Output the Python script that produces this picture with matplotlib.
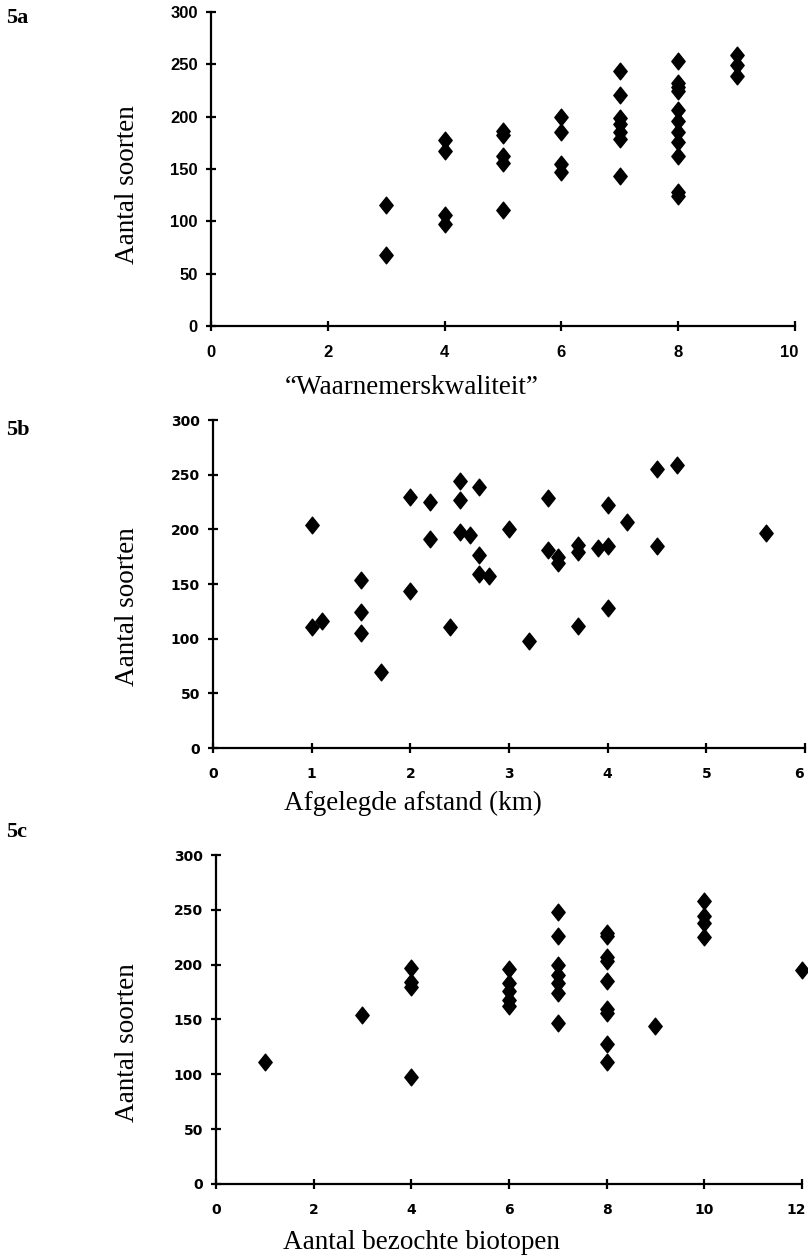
import matplotlib
matplotlib.use("Agg")
import matplotlib.pyplot as plt
import matplotlib.transforms as mtransforms
from matplotlib.path import Path

# 5a: waarnemerskwaliteit vs aantal soorten
kwal_x = [3, 3,
          4, 4, 4, 4,
          5, 5, 5, 5, 5,
          6, 6, 6, 6,
          7, 7, 7, 7, 7, 7, 7,
          8, 8, 8, 8, 8, 8, 8, 8, 8, 8, 8,
          9, 9, 9]
kwal_y = [116, 68,
          178, 167, 106, 97,
          186, 182, 162, 156, 111,
          200, 185, 155, 147,
          244, 221, 199, 193, 185, 179, 143,
          253, 232, 228, 224, 206, 196, 185, 176, 162, 128, 124,
          259, 249, 239]

# 5b: afgelegde afstand (km) vs aantal soorten
afst_x = [1.0, 1.0, 1.1, 1.5, 1.5, 1.5, 1.7, 2.0, 2.0, 2.2, 2.2, 2.4,
          2.5, 2.5, 2.5, 2.6, 2.7, 2.7, 2.7, 2.8, 3.0, 3.2, 3.4, 3.4,
          3.5, 3.5, 3.7, 3.7, 3.7, 3.9, 4.0, 4.0, 4.0, 4.2, 4.5, 4.5,
          4.7, 5.6]
afst_y = [204, 111, 116, 154, 124, 105, 70, 230, 144, 225, 191, 111,
          244, 227, 198, 195, 239, 177, 159, 157, 200, 98, 229, 181,
          175, 169, 186, 179, 112, 183, 222, 185, 128, 207, 255, 185,
          259, 197]

# 5c: aantal bezochte biotopen vs aantal soorten
bio_x = [1, 3,
         4, 4, 4, 4,
         6, 6, 6, 6, 6,
         7, 7, 7, 7, 7, 7, 7,
         8, 8, 8, 8, 8, 8, 8, 8, 8,
         9,
         10, 10, 10, 10,
         12]
bio_y = [111, 154,
         197, 184, 180, 98,
         196, 183, 176, 168, 162,
         248, 226, 200, 191, 183, 174, 147,
         229, 226, 207, 203, 185, 160, 156, 128, 111,
         144,
         258, 244, 238, 225,
         195]

SERIF = ['Liberation Serif', 'DejaVu Serif']

# slightly tall diamond like the original
diamond = Path([(0, 1), (0.8, 0), (0, -1), (-0.8, 0), (0, 1)],
               [Path.MOVETO, Path.LINETO, Path.LINETO, Path.LINETO, Path.CLOSEPOLY])

fig = plt.figure(figsize=(8.08, 12.57), dpi=100)

# rect, x, y, xmax, xstep, xlabel, tag, tag y, tick font, tick size, xlabel pos, ylabel pos
panels = [
    ([0.2611, 0.7407, 0.7228, 0.2498], kwal_x, kwal_y, 10, 2,
     '\u201cWaarnemerskwaliteit\u201d', '5a', 1 - 18 / 1257,
     ['Liberation Sans', 'DejaVu Sans'], 12, (0.344, -0.155), (-0.122, 0.45)),
    ([0.2636, 0.4049, 0.7327, 0.2609], afst_x, afst_y, 6, 1,
     'Afgelegde afstand (km)', '5b', 1 - 430 / 1257,
     ['DejaVu Sans'], 10, (0.338, -0.13), (-0.123, 0.43)),
    ([0.2673, 0.0581, 0.7252, 0.2617], bio_x, bio_y, 12, 2,
     'Aantal bezochte biotopen', '5c', 1 - 832 / 1257,
     ['DejaVu Sans'], 10, (0.35, -0.14), (-0.13, 0.43)),
]

for rect, xs, ys, xmax, xstep, xlabel, tag, tag_y, tfont, tsize, xl_pos, yl_pos in panels:
    ax = fig.add_axes(rect)
    ax.plot(xs, ys, linestyle='none', marker=diamond, markersize=12,
            color='black', clip_on=False)
    ax.set_xlim(0, xmax)
    ax.set_ylim(0, 300)
    ax.set_xticks(range(0, xmax + 1, xstep))
    ax.set_yticks(range(0, 301, 50))
    for side in ['top', 'right']:
        ax.spines[side].set_visible(False)
    for side in ['left', 'bottom']:
        ax.spines[side].set_linewidth(1.6)
    ax.tick_params(direction='inout', length=7, width=1.6, pad=6)
    ax.tick_params(axis='x', pad=10)
    for lab in ax.get_xticklabels() + ax.get_yticklabels():
        lab.set_family(tfont)
        lab.set_fontweight('bold')
        lab.set_fontsize(tsize)
    # keep the last x tick label inside the page
    last = ax.get_xticklabels()[-1]
    last.set_transform(last.get_transform() +
                       mtransforms.ScaledTranslation(-6 / 100, 0, fig.dpi_scale_trans))
    ax.set_xlabel(xlabel, family=SERIF, fontsize=19.5)
    ax.xaxis.set_label_coords(*xl_pos)
    ax.set_ylabel('Aantal soorten', family=SERIF, fontsize=19.5)
    ax.yaxis.set_label_coords(*yl_pos)
    fig.text(0.008, tag_y, tag, family=SERIF, fontsize=16, fontweight='bold',
             va='center', ha='left')

fig.savefig('out.png', dpi=100)
